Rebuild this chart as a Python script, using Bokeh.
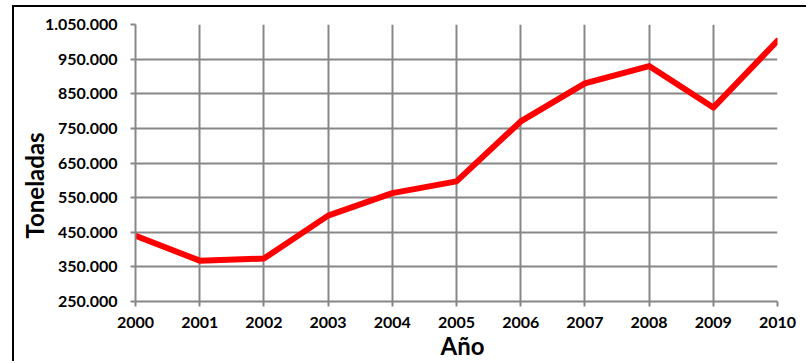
from bokeh.plotting import figure
from bokeh.models import FixedTicker, Range1d, Title
from bokeh.embed import file_html
from bokeh.resources import INLINE

years = [2000, 2001, 2002, 2003, 2004, 2005, 2006, 2007, 2008, 2009, 2010]
toneladas = [440000, 368000, 374000, 498000, 563000, 597000, 770000, 880000, 930000, 810000, 1003000]

y_ticks = [250000, 350000, 450000, 550000, 650000, 750000, 850000, 950000, 1050000]
y_tick_labels = ["250.000", "350.000", "450.000", "550.000", "650.000",
                 "750.000", "850.000", "950.000", "1.050.000"]

x_title = "Año"
y_title = "Toneladas"

FONT = "Lato"
GRID = "#878787"

p = figure(width=794, height=356, output_backend="svg", toolbar_location=None,
           x_range=Range1d(2000, 2010), y_range=Range1d(250000, 1050000),
           min_border_left=121, min_border_right=31, min_border_top=17, min_border_bottom=62)
p.margin = (5, 0, 0, 12)
p.styles = {"border-left": "2px solid black", "border-top": "2px solid black"}

p.line(years, toneladas, line_color="#FF0000", line_width=6, line_join="round", line_cap="round")

p.outline_line_color = None
p.background_fill_color = "white"
p.border_fill_color = "white"

p.xaxis.ticker = FixedTicker(ticks=years)
p.yaxis.ticker = FixedTicker(ticks=y_ticks)
p.yaxis.major_label_overrides = {t: l for t, l in zip(y_ticks, y_tick_labels)}
p.xaxis.major_label_overrides = {y: str(y) for y in years}

for ax in (p.xaxis, p.yaxis):
    ax.axis_line_color = GRID
    ax.axis_line_width = 2
    ax.major_tick_line_color = GRID
    ax.major_tick_line_width = 2
    ax.major_tick_out = 5
    ax.major_tick_in = 0
    ax.minor_tick_line_color = None
    ax.major_label_text_font = FONT
    ax.major_label_text_font_style = "bold"
    ax.major_label_text_font_size = "16px"
    ax.major_label_text_color = "black"

p.yaxis.major_label_standoff = 13
p.xaxis.major_label_standoff = 10

p.xgrid.grid_line_color = GRID
p.xgrid.grid_line_width = 2
p.ygrid.grid_line_color = GRID
p.ygrid.grid_line_width = 2

ytitle = Title(text=y_title, align="left", offset=63, standoff=-14,
               text_font=FONT, text_font_style="bold", text_font_size="24px",
               text_color="black")
xtitle = Title(text=x_title, align="left", offset=305, standoff=-4,
               text_font=FONT, text_font_style="bold", text_font_size="24px",
               text_color="black")
p.add_layout(ytitle, "left")
p.add_layout(xtitle, "below")

open("out.html", "w").write(file_html(p, INLINE))
